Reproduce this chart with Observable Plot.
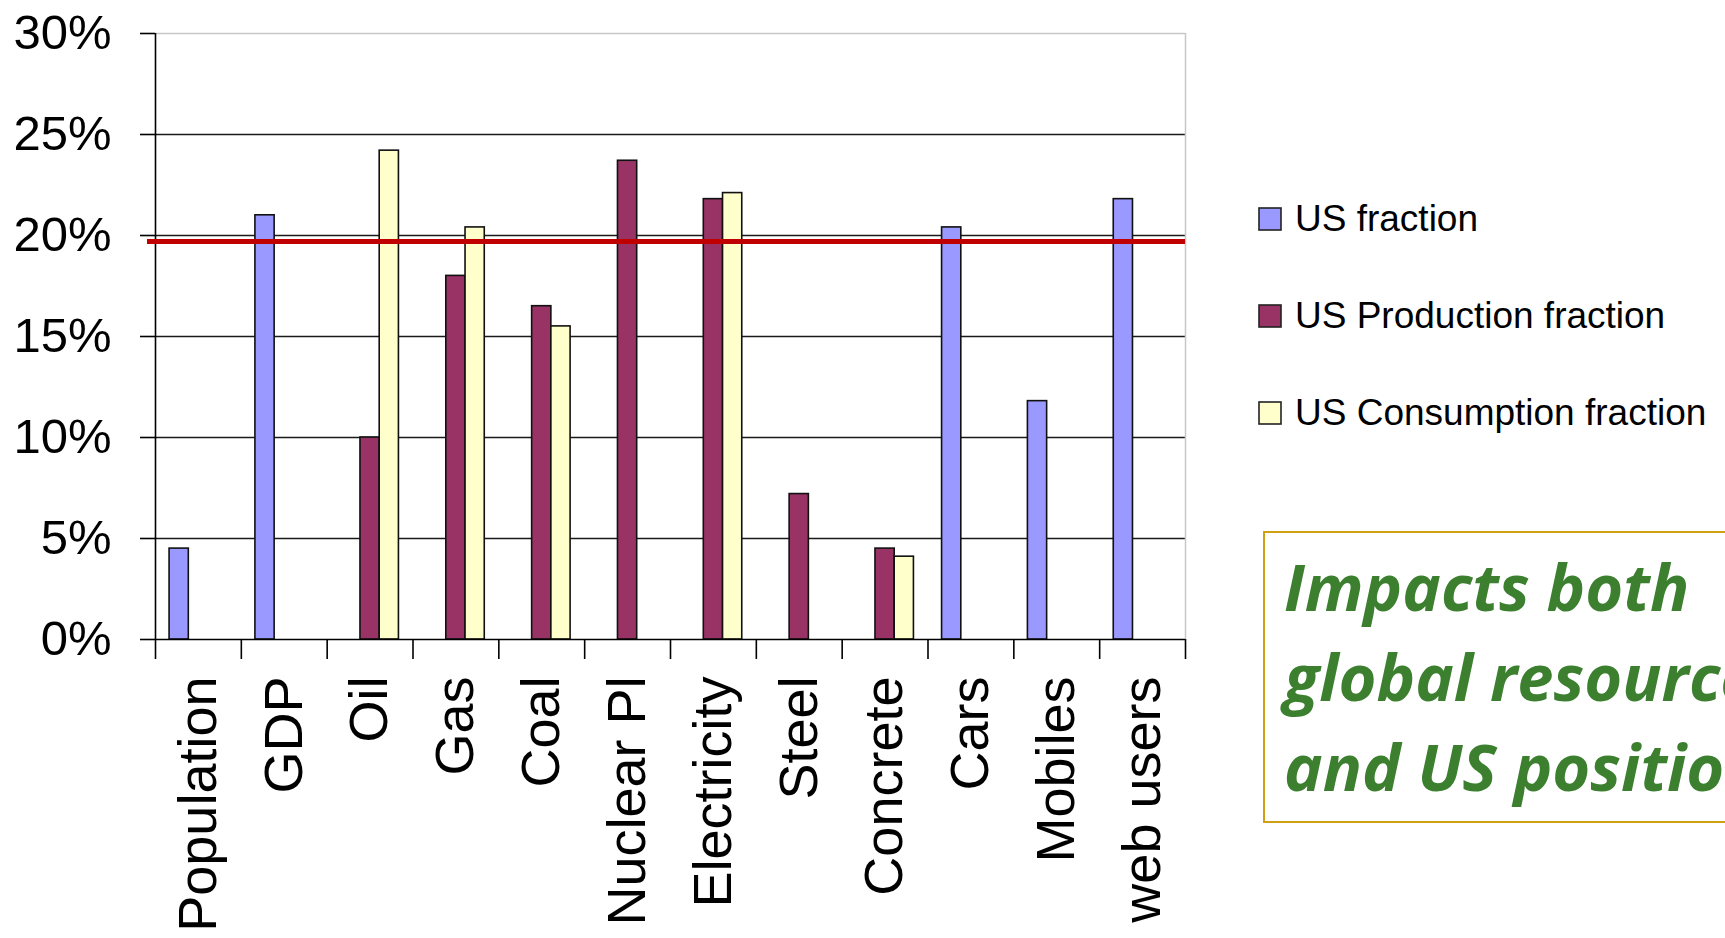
<!DOCTYPE html>
<html>
<head>
<meta charset="utf-8">
<script src="https://cdn.jsdelivr.net/npm/d3@7"></script>
<script src="https://cdn.jsdelivr.net/npm/@observablehq/plot@0.6"></script>
<style>
  html, body { margin: 0; padding: 0; background: #fff; overflow: hidden; }
  #wrap { position: relative; width: 1725px; height: 938px; }
  #legend { position: absolute; left: 0; top: 0; pointer-events: none; }
  #note {
    position: absolute; left: 1263px; top: 531px; width: 700px; height: 292px;
    box-sizing: border-box; border: 2px solid #D19F12; background: #fff;
  }
  #note div {
    position: absolute; left: 19px; top: 8px; white-space: nowrap;
    font-family: "Open Sans", "Noto Sans", sans-serif; font-weight: 700; font-style: italic;
    font-size: 65px; line-height: 90px; color: #3B7F2F;
  }
</style>
</head>
<body>
<div id="wrap"></div>
<script>
// Share of the world total held by the US, in percent
const categories = ["Population", "GDP", "Oil", "Gas", "Coal", "Nuclear Pl", "Electricity", "Steel", "Concrete", "Cars", "Mobiles", "web users"];
const series = ["US fraction", "US Production fraction", "US Consumption fraction"];
const usFraction    = [4.5, 21.0, null, null, null, null, null, null, null, 20.4, 11.8, 21.8];
const usProduction  = [null, null, 10.0, 18.0, 16.5, 23.7, 21.8, 7.2, 4.5, null, null, null];
const usConsumption = [null, null, 24.2, 20.4, 15.5, null, 22.1, null, 4.1, null, null, null];
const seriesColors = ["#9999FF", "#993366", "#FFFFCC"];
const yTicks = [0, 5, 10, 15, 20, 25, 30];
const usShareLine = 19.7;
const noteLines = ["Impacts both", "global resources", "and US position"];

const valuesBySeries = [usFraction, usProduction, usConsumption];
const rows = categories.flatMap((category, index) =>
  valuesBySeries.map((values, slot) => ({category, index, slot, series: series[slot], value: values[index]}))
).filter(d => d.value != null);

// each category holds three side-by-side slots
const slotWidth = 0.224;
const slotStart = d => d.index + 0.5 + (d.slot - 1.5) * slotWidth;

const font = "'Liberation Sans', Arial, sans-serif";
const n = categories.length;

const chart = Plot.plot({
  width: 1725,
  height: 938,
  marginLeft: 155,
  marginRight: 540,
  marginTop: 33,
  marginBottom: 299,
  style: {fontFamily: font, color: "#000", background: "transparent"},
  x: {type: "linear", domain: [0, n], label: null},
  y: {domain: [0, 30], label: null},
  color: {domain: series, range: seriesColors},
  marks: [
    Plot.ruleY(yTicks.filter(t => t > 0 && t < 30), {stroke: "#1a1a1a", strokeWidth: 1.6}),
    Plot.ruleY([30], {stroke: "#c8c8c8", strokeWidth: 1.5}),
    Plot.ruleX([n], {stroke: "#c8c8c8", strokeWidth: 1.5}),
    Plot.rect(rows, {
      x1: slotStart,
      x2: d => slotStart(d) + slotWidth,
      y1: 0,
      y2: "value",
      fill: "series",
      stroke: "#111",
      strokeWidth: 1.6
    }),
    Plot.ruleY([0], {stroke: "#000", strokeWidth: 1.6}),
    Plot.ruleX([0], {stroke: "#000", strokeWidth: 1.6}),
    Plot.axisY({ticks: yTicks, tickFormat: d => d + "%", tickSize: 15, tickPadding: 29, fontSize: 49, strokeWidth: 1.6, fill: "#000"}),
    Plot.axisX({ticks: d3.range(n + 1), tickFormat: () => "", tickSize: 20, strokeWidth: 1.6}),
    Plot.axisX({
      ticks: categories.map((c, i) => i + 0.5),
      tickFormat: v => categories[Math.floor(v)],
      tickSize: 0,
      tickPadding: 37,
      tickRotate: -90,
      fontSize: 54,
      fill: "#000"
    }),
    Plot.ruleY([usShareLine], {stroke: "#C00000", strokeWidth: 5, insetLeft: -8})
  ]
});

const wrap = document.getElementById("wrap");
wrap.appendChild(chart);

// legend: swatch + series name
const legend = d3.select(wrap).append("svg")
  .attr("id", "legend")
  .attr("width", 1725)
  .attr("height", 938);
const items = legend.selectAll("g").data(series).join("g")
  .attr("transform", (d, i) => `translate(1259,${231 + i * 97})`);
items.append("rect")
  .attr("x", 0).attr("y", -23).attr("width", 22).attr("height", 22)
  .attr("fill", (d, i) => seriesColors[i])
  .attr("stroke", "#222").attr("stroke-width", 1.6);
items.append("text")
  .attr("x", 36).attr("y", 0)
  .attr("font-family", font).attr("font-size", 37).attr("fill", "#000")
  .text(d => d);

// boxed note
const note = d3.select(wrap).append("div").attr("id", "note");
note.append("div").html(noteLines.join("<br>"));
</script>
</body>
</html>
